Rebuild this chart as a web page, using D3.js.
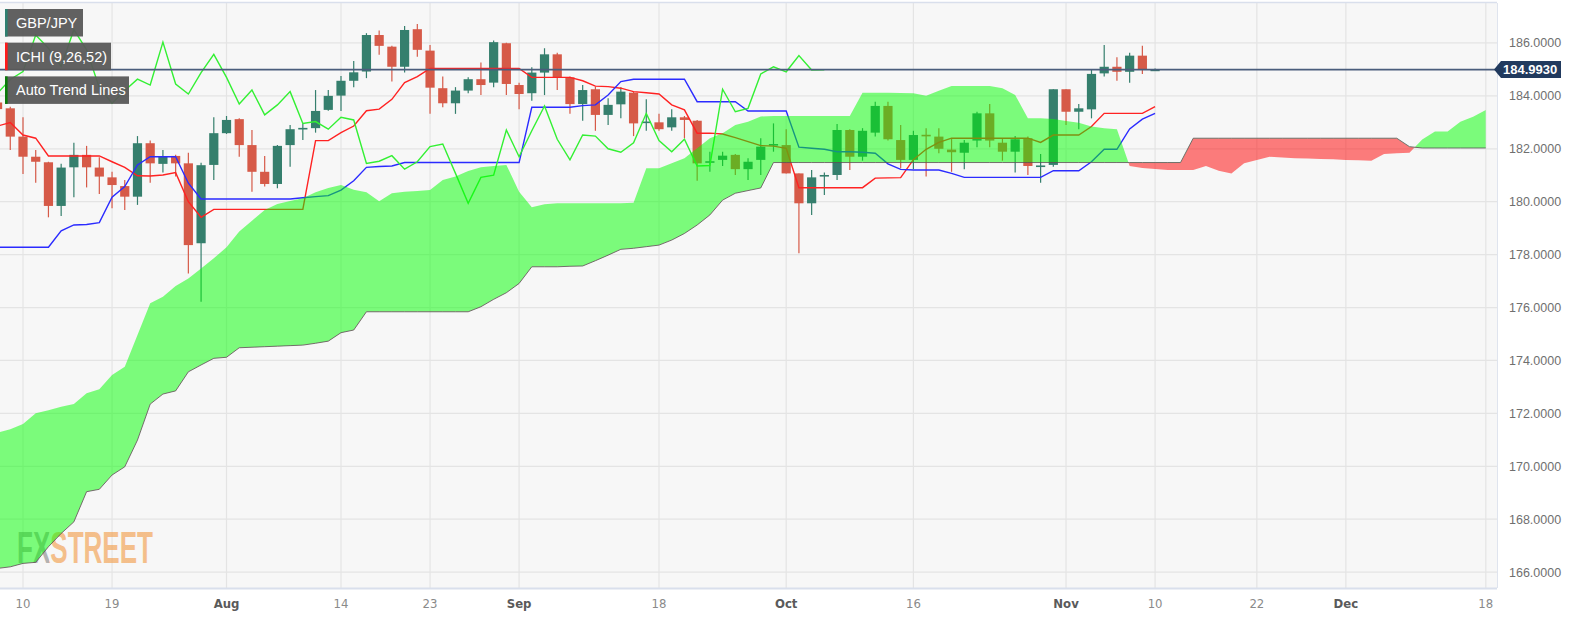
<!DOCTYPE html>
<html><head><meta charset="utf-8">
<script src="https://cdn.jsdelivr.net/npm/d3@7/dist/d3.min.js"></script>
<style>
body{margin:0;background:#fff;}
svg{display:block;font-family:"Liberation Sans",Arial,sans-serif;}
</style>
</head><body>
<svg id="chart" width="1575" height="628"></svg>
<script>
// ---- DATA (index 0 = Jul 10 2023, trading days; arrays start at index -2) ----
const firstIndex = -2;
const opens = [183.75,183.53,182.46,181.70,181.49,179.84,181.30,181.77,181.29,180.92,180.59,180.19,182.21,181.43,181.73,181.45,178.43,181.39,182.59,183.12,182.14,181.13,180.67,182.14,182.77,182.78,183.47,184.01,184.57,184.92,186.30,185.86,185.10,186.52,185.71,184.29,183.72,184.20,184.63,184.50,185.99,184.41,184.10,184.88,185.57,184.70,183.69,184.25,183.28,183.68,184.12,183.00,183.00,182.81,183.19,183.06,181.51,181.58,181.77,181.23,181.58,182.12,182.14,181.07,179.94,180.99,181.01,182.71,181.70,182.61,183.62,182.33,181.58,182.53,182.46,181.97,181.85,182.31,183.34,182.23,181.89,182.40,181.33,181.39,184.25,183.40,183.49,184.85,185.10,184.91,185.52,184.98];
const highs = [183.90,183.59,183.19,181.95,181.51,181.43,182.23,182.11,181.68,181.13,180.82,182.48,182.31,181.95,181.77,181.85,181.47,183.19,183.24,183.15,182.71,181.73,182.14,182.90,182.96,184.22,184.22,184.75,185.32,186.37,186.47,185.89,186.64,186.72,185.92,184.73,184.33,184.70,185.26,186.09,186.01,184.50,185.08,185.80,185.63,184.73,184.41,184.35,183.91,184.33,184.16,183.87,183.32,183.49,183.24,183.09,181.89,181.89,181.80,181.64,182.40,182.96,182.74,181.07,181.20,181.10,182.94,182.74,182.78,183.78,183.78,182.90,182.68,182.78,182.78,182.40,182.33,183.40,183.69,182.40,182.48,182.46,181.80,184.25,184.25,183.69,184.98,185.92,185.46,185.63,185.89,185.03];
const lows = [183.40,181.95,181.05,180.72,179.41,179.46,180.17,180.54,180.29,179.75,179.69,179.88,180.72,181.10,180.95,177.29,176.22,180.82,182.56,181.70,180.38,180.57,180.51,181.32,182.33,182.61,183.44,183.43,184.33,184.67,185.55,184.54,184.88,185.48,183.32,183.57,183.32,184.10,184.03,184.33,184.03,183.49,183.82,184.03,184.22,183.32,183.06,182.68,182.90,183.15,182.48,182.68,182.68,182.68,182.40,180.79,181.13,181.35,181.01,180.82,181.01,181.89,181.07,178.05,179.50,180.25,180.82,181.20,181.55,182.46,182.31,181.26,181.23,180.95,181.83,181.13,181.23,182.06,182.06,181.55,181.10,181.01,180.72,181.32,182.90,182.74,183.15,184.73,184.57,184.50,184.83,184.96];
const closes = [183.50,182.46,181.70,181.51,179.84,181.29,181.77,181.30,180.95,180.63,180.19,182.21,181.45,181.70,181.45,178.36,181.38,182.59,183.09,182.14,181.13,180.67,182.11,182.74,182.79,183.43,184.00,184.57,184.89,186.30,185.89,185.10,186.49,185.74,184.31,183.72,184.20,184.63,184.41,186.03,184.45,184.07,184.88,185.57,184.70,183.69,184.22,183.28,183.66,184.16,182.96,183.03,182.74,183.19,183.09,181.45,181.53,181.74,181.23,181.51,182.08,182.18,181.07,179.94,180.92,181.01,182.71,181.70,182.68,183.62,182.36,181.58,182.52,182.48,182.00,181.87,182.23,183.34,182.31,181.89,182.36,181.35,181.37,184.25,183.40,183.53,184.83,185.10,184.91,185.52,184.98,184.993];
// Tenkan-sen (red), index -2 .. 89
const tenkan = [182.86,182.99,182.52,182.40,181.73,181.73,181.73,181.73,181.73,181.51,181.30,180.98,180.97,181.01,181.10,180.00,179.41,179.71,179.71,179.71,179.71,179.71,179.71,179.71,179.71,182.31,182.31,182.61,182.86,183.44,183.50,183.87,184.50,184.73,185.04,185.04,185.04,185.04,185.04,185.04,185.04,185.04,184.70,184.70,184.70,184.70,184.57,184.37,184.35,184.29,184.16,184.12,184.07,183.66,183.47,182.59,182.59,182.56,182.42,182.27,182.12,182.10,182.02,180.53,180.53,180.53,180.53,180.53,180.53,180.89,180.90,180.91,181.59,181.98,182.24,182.40,182.40,182.40,182.40,182.40,182.40,182.40,182.24,182.52,182.52,182.52,182.84,183.34,183.34,183.34,183.34,183.59];
// Kijun-sen (blue), index -2 .. 89
const kijun = [178.28,178.28,178.28,178.28,178.28,178.90,179.12,179.14,179.21,180.17,180.57,181.39,181.70,181.70,181.70,180.70,180.10,180.10,180.10,180.10,180.10,180.10,180.10,180.10,180.15,180.19,180.23,180.44,180.79,181.30,181.33,181.35,181.48,181.48,181.48,181.48,181.48,181.48,181.48,181.48,181.48,181.48,183.57,183.57,183.57,183.57,183.63,183.66,184.03,184.54,184.63,184.63,184.63,184.63,184.63,183.78,183.78,183.78,183.78,183.43,183.43,183.43,183.43,182.06,182.02,181.98,181.89,181.89,181.87,181.83,181.43,181.22,181.20,181.20,181.20,181.07,180.92,180.92,180.92,180.92,180.92,180.92,180.92,181.17,181.17,181.17,181.51,181.98,181.98,182.75,183.12,183.34];
// Chikou span (lagging, bright green), index -2 .. 63
const chikou = [184.10,184.62,184.92,186.30,185.80,185.12,186.50,185.74,184.31,183.72,184.20,184.63,184.41,186.03,184.45,184.07,184.88,185.57,184.70,183.69,184.22,183.28,183.66,184.16,182.96,183.03,182.74,183.19,183.09,181.45,181.53,181.74,181.23,181.51,182.08,182.18,181.07,179.94,180.92,181.00,182.71,181.70,182.68,183.62,182.36,181.58,182.52,182.48,182.00,181.87,182.23,183.34,182.31,181.89,182.36,181.35,181.37,184.25,183.40,183.53,184.83,185.10,184.91,185.52,184.98,184.99];
// Senkou span A, index -2 .. 115
const senkouA = [171.27,171.40,171.60,172.00,172.12,172.25,172.35,172.76,172.91,173.45,173.76,174.96,176.16,176.41,176.81,177.10,177.48,177.86,178.28,178.87,179.28,179.69,179.91,180.03,180.13,180.36,180.52,180.63,180.45,180.36,180.02,180.32,180.38,180.40,180.44,180.82,180.95,181.16,181.30,181.35,181.39,180.38,179.79,179.90,179.94,179.94,179.94,179.94,179.94,179.94,179.96,181.26,181.26,181.45,181.64,182.02,182.40,182.59,182.90,183.02,183.22,183.24,183.24,183.24,183.24,183.24,183.24,183.24,184.12,184.12,184.12,184.11,184.10,184.00,184.19,184.37,184.37,184.37,184.37,184.29,184.03,183.15,183.15,183.13,183.05,182.98,182.84,182.78,182.74,181.35,181.27,181.24,181.20,181.20,181.20,181.35,181.17,181.07,181.45,181.58,181.70,181.67,181.64,181.63,181.61,181.60,181.58,181.57,181.55,181.80,181.83,181.85,182.35,182.65,182.65,183.02,183.21,183.47];
// Senkou span B, index -2 .. 115
const senkouB = [166.14,166.20,166.33,166.37,166.96,167.46,167.90,169.04,169.13,169.67,169.98,170.99,172.35,172.73,172.85,173.57,173.83,174.08,174.12,174.48,174.50,174.52,174.54,174.56,174.58,174.65,174.73,175.05,175.15,175.84,175.84,175.84,175.84,175.84,175.84,175.84,175.84,175.84,176.03,176.31,176.56,176.91,177.54,177.54,177.54,177.56,177.57,177.77,177.98,178.20,178.24,178.30,178.36,178.55,178.80,179.12,179.50,180.06,180.32,180.42,180.52,181.48,181.48,181.48,181.48,181.48,181.48,181.48,181.48,181.48,181.48,181.48,181.48,181.48,181.48,181.48,181.48,181.48,181.48,181.48,181.48,181.48,181.48,181.48,181.48,181.48,181.48,181.48,181.48,181.48,181.48,181.48,181.48,181.48,182.40,182.40,182.40,182.40,182.40,182.40,182.40,182.40,182.40,182.40,182.40,182.40,182.40,182.40,182.40,182.40,182.40,182.08,182.03,182.03,182.03,182.03,182.03,182.03];
const lastPrice = 184.993;
const xTickIndex = [0,7,16,25,32,39,50,60,70,82,89,97,104,115];
const xTickLabels = ["10","19","Aug","14","23","Sep","18","Oct","16","Nov","10","22","Dec","18"];
const yTicks = [166,168,170,172,174,176,178,180,182,184,186];
const legendItems = ["GBP/JPY","ICHI (9,26,52)","Auto Trend Lines"];

// ---- DRAW ----
const svg = d3.select("#chart");
const P = {l:0, r:1497, t:3, b:588};
const x = d3.scaleLinear().domain([-1.808, 115.88]).range([P.l, P.r]);
const y = d3.scaleLinear().domain([165.40, 187.51]).range([P.b, P.t]);
const toSeries = arr => arr.map((v,k)=>({i:k+firstIndex, v}));

const defs = svg.append("defs");
defs.append("clipPath").attr("id","plotClip").append("rect")
  .attr("x",P.l).attr("y",P.t).attr("width",P.r-P.l).attr("height",P.b-P.t);
// watermark two-tone fill
const wmGrad = defs.append("linearGradient").attr("id","wmGrad")
  .attr("gradientUnits","userSpaceOnUse").attr("x1",17).attr("x2",153).attr("y1",0).attr("y2",0);
[[0,"#7a7a7a",0.55],[0.235,"#7a7a7a",0.55],[0.235,"#f2a050",0.65],[1,"#f2a050",0.65]].forEach(s=>
  wmGrad.append("stop").attr("offset",s[0]).attr("stop-color",s[1]).attr("stop-opacity",s[2]));

svg.append("rect").attr("x",P.l).attr("y",P.t).attr("width",P.r-P.l).attr("height",P.b-P.t).attr("fill","#f7f7f7");

const g = svg.append("g").attr("clip-path","url(#plotClip)");
// grid
g.selectAll(".hg").data(yTicks).join("line")
  .attr("x1",P.l).attr("x2",P.r).attr("y1",d=>y(d)).attr("y2",d=>y(d))
  .attr("stroke","#e4e4e4").attr("stroke-width",1.2);
g.selectAll(".vg").data(xTickIndex).join("line")
  .attr("x1",d=>x(d)).attr("x2",d=>x(d)).attr("y1",P.t).attr("y2",P.b)
  .attr("stroke","#e4e4e4").attr("stroke-width",1.2);

// watermark
g.append("text").attr("x",17).attr("y",563).attr("font-size",44).attr("font-weight","bold")
  .attr("textLength",136).attr("lengthAdjust","spacingAndGlyphs")
  .attr("fill","url(#wmGrad)").text("FXSTREET");

// candles
const candles = opens.map((o,k)=>({i:k+firstIndex,o,h:highs[k],l:lows[k],c:closes[k]}));
const up="#357f6d", dn="#d65a48";
const cg = g.append("g");
cg.selectAll("line").data(candles).join("line")
  .attr("x1",d=>x(d.i)).attr("x2",d=>x(d.i)).attr("y1",d=>y(d.h)).attr("y2",d=>y(d.l))
  .attr("stroke",d=>d.c>=d.o?up:dn).attr("stroke-width",1.2);
cg.selectAll("rect").data(candles).join("rect")
  .attr("x",d=>x(d.i)-4.6).attr("width",9.2)
  .attr("y",d=>y(Math.max(d.o,d.c)))
  .attr("height",d=>Math.max(1.6,Math.abs(y(d.o)-y(d.c))))
  .attr("fill",d=>d.c>=d.o?up:dn);

const line = d3.line().x(d=>x(d.i)).y(d=>y(d.v));
g.append("path").datum(toSeries(tenkan)).attr("d",line).attr("fill","none").attr("stroke","#ff2222").attr("stroke-width",1.4);
g.append("path").datum(toSeries(kijun)).attr("d",line).attr("fill","none").attr("stroke","#2b2bff").attr("stroke-width",1.4);
g.append("path").datum(toSeries(chikou)).attr("d",line).attr("fill","none").attr("stroke","#33f033").attr("stroke-width",1.4);

// cloud
const cloud = senkouA.map((a,k)=>({i:k+firstIndex,a,b:senkouB[k]}));
const above = d3.area().x(d=>x(d.i)).y0(P.t-10).y1(d=>y(d.b));
const below = d3.area().x(d=>x(d.i)).y0(d=>y(d.b)).y1(P.b+10);
defs.append("clipPath").attr("id","clipAbove").append("path").attr("d",above(cloud));
defs.append("clipPath").attr("id","clipBelow").append("path").attr("d",below(cloud));
const band = d3.area().x(d=>x(d.i)).y0(d=>y(d.a)).y1(d=>y(d.b));
g.append("g").attr("clip-path","url(#clipAbove)").append("path").attr("d",band(cloud))
  .attr("fill","rgb(0,255,0)").attr("fill-opacity",0.5);
g.append("g").attr("clip-path","url(#clipBelow)").append("path").attr("d",band(cloud))
  .attr("fill","rgb(255,0,0)").attr("fill-opacity",0.5);
g.append("path").datum(cloud.map(d=>({i:d.i,v:d.b}))).attr("d",line).attr("fill","none")
  .attr("stroke","#555").attr("stroke-width",1).attr("stroke-opacity",0.8);

// last price line
g.append("line").attr("x1",P.l).attr("x2",P.r).attr("y1",y(lastPrice)).attr("y2",y(lastPrice))
  .attr("stroke","#4a5d7c").attr("stroke-width",1.6);

// borders
svg.append("line").attr("x1",0).attr("x2",P.r).attr("y1",P.t-0.5).attr("y2",P.t-0.5).attr("stroke","#d9dfec").attr("stroke-width",1.5);
svg.append("line").attr("x1",0).attr("x2",P.r).attr("y1",P.b+0.5).attr("y2",P.b+0.5).attr("stroke","#d9dfec").attr("stroke-width",2);
svg.append("line").attr("x1",P.r+0.5).attr("x2",P.r+0.5).attr("y1",P.t).attr("y2",P.b).attr("stroke","#dfe4ee").attr("stroke-width",1);

// legend
const lg = svg.append("g");
const lgColors = ["#2f8070","#ff1a1a","#0a7a0a"];
const lgWidths = [78,106,124];
legendItems.forEach((t,k)=>{
  const yy = 9 + k*33.7;
  lg.append("rect").attr("x",5).attr("y",yy).attr("width",lgWidths[k]).attr("height",27.5).attr("fill","#595959").attr("fill-opacity",0.95);
  lg.append("rect").attr("x",5).attr("y",yy).attr("width",2.6).attr("height",27.5).attr("fill",lgColors[k]);
  lg.append("text").attr("x",16).attr("y",yy+19).attr("font-size",14.5).attr("fill","#fff").text(t);
});

// x labels
svg.selectAll(".xl").data(xTickIndex).join("text")
  .attr("x",d=>x(d)).attr("y",608).attr("text-anchor","middle")
  .attr("font-family","'Liberation Sans Narrow','DejaVu Sans Condensed',Arial,sans-serif")
  .attr("font-size",13)
  .attr("font-weight",(d,k)=>isNaN(+xTickLabels[k])?"bold":"normal")
  .attr("fill",(d,k)=>isNaN(+xTickLabels[k])?"#5a5a5a":"#8a8a8a")
  .text((d,k)=>xTickLabels[k]);

// y labels
svg.selectAll(".yl").data(yTicks).join("text")
  .attr("x",1509).attr("y",d=>y(d)+4.5).attr("font-size",12.5).attr("fill","#6f6f6f")
  .text(d=>d.toFixed(4));

// last price tag
const ly = y(lastPrice);
svg.append("path").attr("d",`M${P.r-3},${ly} L${P.r+4},${ly-8.5} L1561,${ly-8.5} L1561,${ly+8.5} L${P.r+4},${ly+8.5} Z`).attr("fill","#213a5e");
svg.append("text").attr("x",1503).attr("y",ly+4.8).attr("font-size",13).attr("font-weight","bold").attr("fill","#fff").text(lastPrice.toFixed(4));
</script>
</body></html>
